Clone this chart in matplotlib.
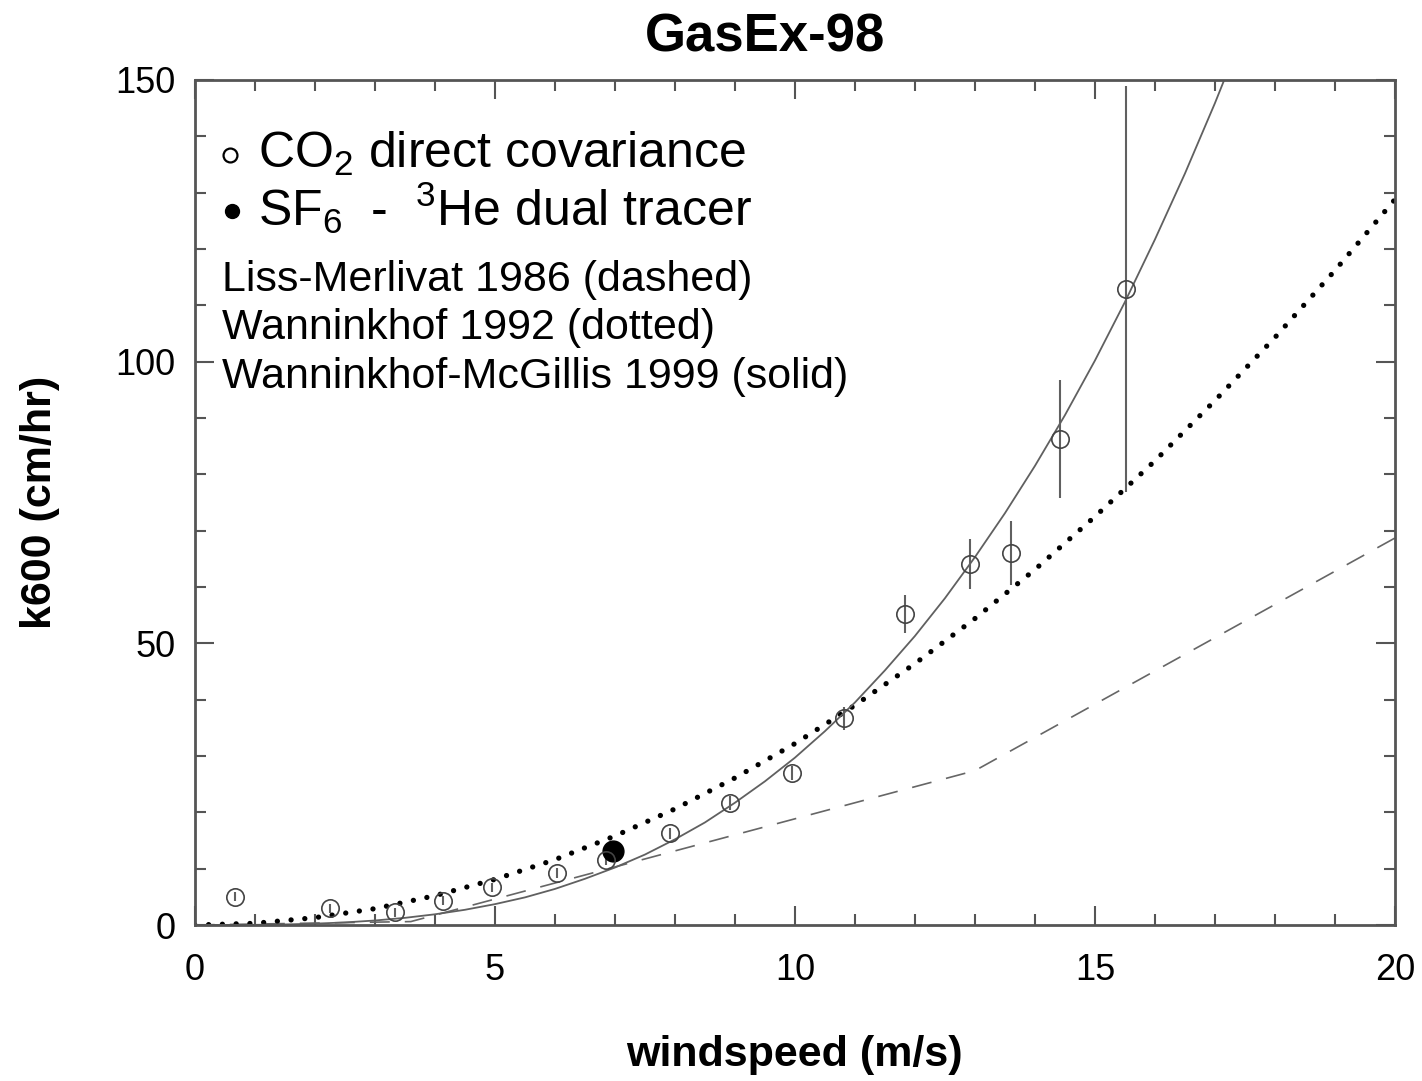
import numpy as np
import matplotlib.pyplot as plt
from matplotlib.ticker import MultipleLocator

plt.rcParams['font.family'] = ['Liberation Sans', 'DejaVu Sans']
plt.rcParams['mathtext.fontset'] = 'custom'
plt.rcParams['mathtext.rm'] = 'Liberation Sans'
plt.rcParams['mathtext.it'] = 'Liberation Sans'

# CO2 direct covariance (open circles)
co2_u = [0.67, 2.25, 3.33, 4.13, 4.95, 6.03, 6.85, 7.92, 8.92, 9.95,
         10.82, 11.83, 12.92, 13.6, 14.42, 15.52]
co2_k = [5.0, 3.0, 2.3, 4.3, 6.7, 9.2, 11.5, 16.3, 21.7, 27.0,
         36.7, 55.2, 64.1, 66.0, 86.3, 112.9]
co2_err = [0.8, 0.8, 0.8, 0.8, 0.8, 0.9, 0.9, 1.0, 1.2, 1.3,
           2.0, 3.4, 4.4, 5.7, 10.5, 36.0]

# SF6 - 3He dual tracer (filled)
sf6_u = [6.97]
sf6_k = [13.1]

# Liss-Merlivat 1986 (break points)
lm_u = [0, 3.6, 13.0, 20.0]
lm_k = [0, 0.61, 27.4, 68.7]

# Wanninkhof 1992
w92_u = np.arange(0, 21, 1)
w92_k = [0, 0.3, 1.3, 2.9, 5.2, 8.1, 11.6, 15.8, 20.6, 26.1, 32.2,
         39.0, 46.4, 54.4, 63.1, 72.5, 82.4, 93.1, 104.3, 116.2, 128.8]

# Wanninkhof-McGillis 1999
wm_u = np.arange(0, 18, 0.5)
wm_k = [0, 0.004, 0.03, 0.1, 0.24, 0.46, 0.8, 1.27, 1.9, 2.7, 3.7, 4.9,
        6.4, 8.2, 10.2, 12.5, 15.2, 18.2, 21.7, 25.5, 29.7, 34.4, 39.5,
        45.2, 51.3, 58.0, 65.3, 73.1, 81.5, 90.5, 100.2, 110.6, 121.7,
        133.4, 145.9, 159.2]

fig = plt.figure(figsize=(14.22, 10.81), dpi=100)
ax = fig.add_axes([0.137, 0.1443, 0.844, 0.7817])

ax.plot(lm_u, lm_k, color='#666666', lw=1.2, dashes=(12, 9))
ax.plot(w92_u, w92_k, color='black', lw=3.8, dashes=(0.01, 2.6),
        dash_capstyle='round')
ax.plot(wm_u, wm_k, color='#606060', lw=1.3)

ax.errorbar(co2_u, co2_k, yerr=co2_err, fmt='o', ms=12.5, mfc='none',
            mec='#444444', mew=1.2, ecolor='#606060', elinewidth=1.5,
            capsize=0)
ax.plot(sf6_u, sf6_k, 'o', color='black', ms=15)

ax.set_xlim(0, 20)
ax.set_ylim(0, 150)
ax.xaxis.set_major_locator(MultipleLocator(5))
ax.xaxis.set_minor_locator(MultipleLocator(1))
ax.yaxis.set_major_locator(MultipleLocator(50))
ax.yaxis.set_minor_locator(MultipleLocator(10))
ax.tick_params(which='both', direction='in', top=True, right=True,
               color='#555555', width=1.5, labelsize=26)
ax.tick_params(which='major', length=14)
ax.tick_params(which='minor', length=8)
ax.tick_params(axis='x', pad=20)
ax.tick_params(axis='y', pad=14)
for s in ax.spines.values():
    s.set_color('#555555')
    s.set_linewidth(2)

ax.set_xlabel('windspeed (m/s)', fontsize=31, fontweight='bold')
ax.xaxis.set_label_coords(0.5, -0.154)
ax.xaxis.label.set_va('center')
ax.set_ylabel('k600 (cm/hr)', fontsize=31, fontweight='bold')
ax.yaxis.set_label_coords(-0.129, 0.5)
ax.yaxis.label.set_va('center')
fig.text(0.538, 0.965, 'GasEx-98', fontsize=38, fontweight='bold',
         ha='center', va='center')

# legend drawn as text
ax.plot([0.58], [136.6], 'o', ms=10, mfc='none', mec='black', mew=1.6,
        clip_on=False)
ax.plot([0.62], [126.8], 'o', ms=10, color='black', clip_on=False)
ax.text(1.05, 136.8, r'CO$_2$ direct covariance', fontsize=36, va='center')
ax.text(1.05, 127.3, r'SF$_6$  -  $^3$He dual tracer', fontsize=36,
        va='center')
ax.text(0.45, 114.5, 'Liss-Merlivat 1986 (dashed)', fontsize=31, va='center')
ax.text(0.45, 106.0, 'Wanninkhof 1992 (dotted)', fontsize=31, va='center')
ax.text(0.45, 97.2, 'Wanninkhof-McGillis 1999 (solid)', fontsize=31,
        va='center')

plt.savefig('out.png', dpi=100)
